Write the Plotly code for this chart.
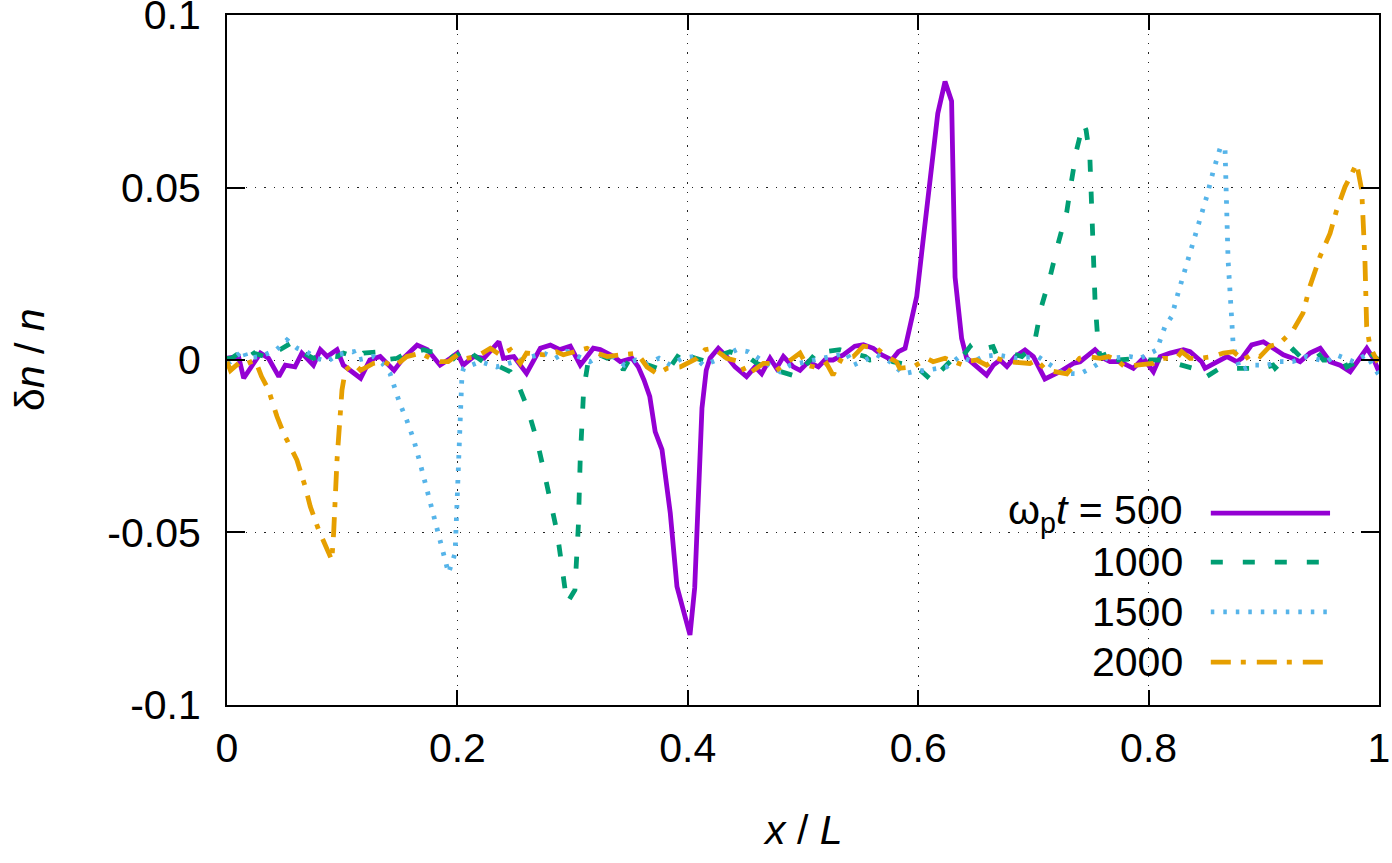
import plotly.graph_objects as go

# ---------------- data ----------------
x500 = [0, 0.01, 0.0145, 0.0217, 0.029, 0.036, 0.045, 0.0506, 0.059, 0.065, 0.075, 0.081, 0.087, 0.0955, 0.101,
        0.116, 0.124, 0.133, 0.145, 0.153, 0.165, 0.174, 0.185, 0.194, 0.2, 0.205, 0.214, 0.223, 0.236, 0.240,
        0.249, 0.26, 0.272, 0.2807, 0.289, 0.298, 0.3067, 0.3125, 0.318, 0.324, 0.33, 0.3356, 0.3414, 0.347,
        0.3516, 0.357, 0.362, 0.367, 0.3717, 0.3776, 0.3848, 0.3906, 0.4019, 0.406, 0.4095, 0.4123, 0.416,
        0.4193, 0.4265, 0.4337, 0.441, 0.451, 0.4584, 0.4641, 0.4714, 0.477, 0.483, 0.4916, 0.4974, 0.5046,
        0.5133, 0.519, 0.526, 0.535, 0.545, 0.5524, 0.561, 0.5683, 0.577, 0.5828, 0.5886, 0.5987, 0.603, 0.610,
        0.617, 0.6233, 0.629, 0.632, 0.6377, 0.642, 0.6508, 0.6594, 0.6652, 0.671, 0.677, 0.6843, 0.6927, 0.7,
        0.710, 0.7144, 0.723, 0.7346, 0.7405, 0.7535, 0.761, 0.7665, 0.7752, 0.7868, 0.7955, 0.8042, 0.81,
        0.8186, 0.8302, 0.836, 0.846, 0.849, 0.8592, 0.868, 0.8765, 0.881, 0.8895, 0.8996, 0.9083, 0.917,
        0.925, 0.9315, 0.94, 0.949, 0.9575, 0.9662, 0.975, 0.9835, 0.9894, 0.995, 1.0]
y500 = [0.0005, 0.001, -0.0053, -0.0015, 0.002, 0.0005, -0.0048, -0.0015, -0.002, 0.002, -0.0015, 0.003, 0.001,
        0.003, -0.0015, -0.0053, 0, 0.001, -0.003, 0.0005, 0.0043, 0.003, -0.0015, 0.0005, 0.002, -0.0015, 0.001,
        0.0005, 0.0053, 0.0005, 0.001, -0.0039, 0.0034, 0.0043, 0.003, 0.004, -0.0015, 0.001, 0.0034, 0.003,
        0.002, 0.001, -0.0005, 0, 0.0005, -0.002, -0.0058, -0.0106, -0.0208, -0.026, -0.0444, -0.0657, -0.0797,
        -0.066, -0.04, -0.014, -0.003, 0.0005, 0.0034, 0.001, -0.002, -0.0048, -0.002, -0.004, 0.0005, -0.0024,
        0.001, -0.002, -0.003, -0.0005, -0.002, 0, 0, 0.0015, 0.004, 0.0044, 0.0034, 0.0015, 0, 0.0024, 0.0034,
        0.0184, 0.031, 0.0512, 0.0715, 0.0807, 0.075, 0.024, 0.0063, 0.0006, -0.002, -0.0044, -0.0015, 0,
        -0.0019, 0.001, 0.0029, 0.001, -0.0055, -0.0048, -0.0034, -0.001, -0.0005, 0.003, 0.0005, -0.0005,
        -0.0005, -0.0024, 0.0005, -0.0034, 0.001, 0.002, 0.003, 0.0024, -0.0005, -0.0024, -0.0005, 0.001,
        -0.0005, 0.0005, 0.0044, 0.0053, 0.0034, 0.0015, 0.0005, -0.0005, 0.002, 0.0034, -0.0005, -0.0015,
        -0.0034, 0.0005, 0.0034, 0.0005, -0.0034]

x1000 = [0, 0.004, 0.019, 0.023, 0.0376, 0.043, 0.056, 0.061, 0.075, 0.0825, 0.0955, 0.101, 0.114, 0.1186, 0.133,
         0.137, 0.1476, 0.153, 0.1707, 0.1765, 0.192, 0.197, 0.208, 0.214, 0.2286, 0.234, 0.246, 0.2517, 0.2604,
         0.269, 0.275, 0.282, 0.2866, 0.2908, 0.2951, 0.302, 0.305, 0.3066, 0.3096, 0.3137, 0.32, 0.33, 0.338,
         0.344, 0.35, 0.362, 0.370, 0.382, 0.396, 0.402, 0.4167, 0.425, 0.4366, 0.454, 0.46, 0.4714, 0.4945,
         0.4974, 0.515, 0.518, 0.532, 0.538, 0.554, 0.558, 0.5726, 0.578, 0.596, 0.5987, 0.613, 0.616, 0.6305,
         0.635, 0.645, 0.648, 0.665, 0.668, 0.68, 0.69, 0.6966, 0.7014, 0.707, 0.7144, 0.7216, 0.729, 0.733,
         0.7375, 0.7433, 0.7457, 0.749, 0.7506, 0.7535, 0.7564, 0.758, 0.7723, 0.774, 0.7926, 0.7955, 0.8128,
         0.8302, 0.836, 0.849, 0.8504, 0.862, 0.8707, 0.888, 0.894, 0.908, 0.9098, 0.9257, 0.9315, 0.946,
         0.9517, 0.969, 0.972, 0.9864, 0.992, 1.0]
y1000 = [0.0005, 0.0005, 0.004, 0.002, 0.0005, 0.0024, 0.005, 0.003, 0.0005, 0.0015, 0.001, 0.002, 0.0005, 0.002,
         0.0024, 0, 0.0005, 0.0015, 0.003, 0.0024, 0.0024, 0.0005, 0.004, 0.0015, -0.002, -0.0015, -0.0034,
         -0.0063, -0.0135, -0.0232, -0.032, -0.0425, -0.050, -0.06, -0.0705, -0.0667, -0.048, -0.029, -0.0087,
         0, 0.002, 0.0005, 0.0015, -0.0029, 0.0005, -0.001, -0.002, -0.0034, 0.0034, 0.001, -0.0005, 0.001,
         0.0024, 0.0005, -0.001, -0.0024, -0.0048, -0.0034, 0.0034, 0.0024, 0.003, 0.0024, 0.001, 0, 0.0005,
         -0.0005, -0.0015, -0.002, -0.0063, -0.0044, 0.0005, -0.0005, 0.0039, 0.0024, 0.0039, 0.0015, 0.002,
         0.001, 0.003, 0.0058, 0.0155, 0.024, 0.0339, 0.043, 0.0517, 0.0609, 0.0686, 0.0667, 0.059, 0.0406,
         0.0174, 0.0034, 0.001, 0.003, 0, 0.0005, 0, 0, -0.0015, -0.002, -0.0034, -0.0048, -0.0024, -0.0024,
         -0.0024, -0.003, -0.0015, -0.0024, 0.003, 0.001, 0.0024, 0, 0, -0.002, 0.0005, 0.002, 0]

x1500 = [0, 0.003, 0.0145, 0.017, 0.029, 0.043, 0.052, 0.061, 0.069, 0.078, 0.087, 0.0955, 0.11, 0.113, 0.127,
         0.135, 0.1415, 0.150, 0.156, 0.162, 0.1677, 0.1735, 0.179, 0.185, 0.1923, 0.198, 0.1997, 0.201, 0.204,
         0.2054, 0.22, 0.234, 0.246, 0.2546, 0.265, 0.275, 0.285, 0.295, 0.305, 0.315, 0.325, 0.335, 0.345,
         0.355, 0.365, 0.375, 0.385, 0.395, 0.405, 0.4135, 0.425, 0.4425, 0.4525, 0.48, 0.4887, 0.509, 0.5205,
         0.538, 0.5437, 0.564, 0.5755, 0.587, 0.5958, 0.607, 0.6247, 0.636, 0.648, 0.6565, 0.668, 0.685, 0.704,
         0.7258, 0.7405, 0.752, 0.7636, 0.784, 0.7926, 0.807, 0.8142, 0.82, 0.8256, 0.8316, 0.8386, 0.8446,
         0.8504, 0.856, 0.862, 0.8663, 0.8677, 0.869, 0.872, 0.8735, 0.8794, 0.891, 0.9025, 0.914, 0.925,
         0.937, 0.9546, 0.963, 0.978, 0.989, 1.0]
y1500 = [-0.0005, -0.0005, 0.003, 0.0005, 0.001, 0.003, 0.0058, 0.0034, 0.0024, 0.0005, -0.0005, 0.0015, 0.0024,
         0, 0.001, -0.001, -0.0039, -0.0126, -0.0174, -0.023, -0.030, -0.0377, -0.0454, -0.052, -0.0618, -0.056,
         -0.0415, -0.025, -0.0039, -0.0024, -0.0005, -0.002, -0.001, 0, 0.001, 0.002, 0.0005, 0.0025, 0.001,
         -0.0005, 0.0015, 0.001, -0.0015, 0, -0.001, 0.0005, -0.0015, 0.0005, 0.001, -0.0015, 0, 0.003, 0.0024,
         -0.0034, -0.0015, 0, 0.0005, 0.002, -0.0015, 0.0015, -0.0005, -0.004, -0.0034, -0.003, -0.002, 0.001,
         -0.0005, 0.001, 0.0015, 0.0005, 0.001, -0.0039, -0.004, -0.002, 0.0005, 0.001, 0.0005, 0.0029, 0.0097,
         0.0126, 0.0194, 0.026, 0.0339, 0.0406, 0.0473, 0.0546, 0.0613, 0.0618, 0.0483, 0.029, 0.0126, 0.0039,
         -0.003, -0.0015, -0.0015, -0.0005, -0.0005, 0.001, -0.0005, 0.0015, -0.0005, 0.0015, -0.0044]

x2000 = [0, 0.003, 0.0116, 0.0174, 0.0245, 0.030, 0.0361, 0.0434, 0.0492, 0.0549, 0.0607, 0.0679, 0.0723, 0.0796,
         0.0868, 0.091, 0.0926, 0.0955, 0.0998, 0.1027, 0.11, 0.116, 0.127, 0.136, 0.145, 0.156, 0.168, 0.1765,
         0.185, 0.192, 0.2, 0.208, 0.217, 0.2286, 0.237, 0.246, 0.2546, 0.26, 0.275, 0.286, 0.292, 0.3125,
         0.321, 0.33, 0.3414, 0.356, 0.3646, 0.3733, 0.382, 0.3935, 0.408, 0.415, 0.4222, 0.4337, 0.4453, 0.451,
         0.4656, 0.4714, 0.477, 0.4873, 0.4974, 0.5032, 0.5148, 0.5205, 0.526, 0.5336, 0.5437, 0.5524, 0.564,
         0.5726, 0.581, 0.584, 0.5958, 0.603, 0.6074, 0.613, 0.6233, 0.639, 0.642, 0.6508, 0.6594, 0.668, 0.678,
         0.697, 0.7025, 0.711, 0.729, 0.74, 0.7463, 0.758, 0.7651, 0.7723, 0.7795, 0.7897, 0.804, 0.8128,
         0.8244, 0.8287, 0.836, 0.8447, 0.856, 0.8649, 0.8736, 0.8823, 0.891, 0.8967, 0.9054, 0.914, 0.9256,
         0.934, 0.940, 0.9488, 0.9575, 0.9633, 0.9705, 0.975, 0.9806, 0.985, 0.9878, 0.9893, 0.9922, 0.998, 1.0]
y2000 = [-0.0005, -0.003, -0.0005, -0.001, 0, -0.0048, -0.0087, -0.0164, -0.0213, -0.025, -0.029, -0.0367,
         -0.0425, -0.0493, -0.055, -0.058, -0.050, -0.029, -0.0087, -0.003, -0.001, -0.003, -0.001, -0.0005,
         -0.002, 0.001, 0.002, 0.0005, -0.0005, -0.0005, 0.0015, 0.0005, 0.001, 0.0034, 0.0015, 0.003, -0.001,
         0.002, 0.0015, 0.0024, 0.0015, 0.0034, 0.002, 0.001, 0.0015, 0.002, -0.002, -0.004, -0.0024, -0.002,
         0.0005, 0.003, 0.0034, 0.0005, -0.0005, -0.0044, -0.001, -0.001, -0.003, -0.0005, 0.002, -0.0015,
         -0.0024, -0.001, -0.0044, 0.0005, 0.001, 0.004, 0.0034, 0.001, -0.0005, -0.0024, -0.002, -0.0005,
         0.0005, -0.0005, 0.0005, -0.0015, -0.0005, 0, -0.0015, 0.0005, -0.0005, -0.001, 0, -0.0029, -0.004,
         0.0005, 0.001, 0.0005, 0.001, 0, -0.002, -0.0015, -0.001, 0.0005, 0.0005, 0.0024, 0.0005, 0.0005, 0.001,
         0.002, 0.0024, 0, 0.002, 0.001, 0.004, 0.0049, 0.0087, 0.0136, 0.0213, 0.030, 0.0367, 0.0435, 0.0502,
         0.0531, 0.057, 0.0493, 0.029, 0.0097, 0.0039, 0, 0.0005]

series_labels = ["ω<sub>p</sub><i>t</i> = 500", "1000", "1500", "2000"]
x_ticks = [0, 0.2, 0.4, 0.6, 0.8, 1.0]
x_tick_text = ["0", "0.2", "0.4", "0.6", "0.8", "1"]
y_ticks = [-0.1, -0.05, 0, 0.05, 0.1]
y_tick_text = ["-0.1", "-0.05", "0", "0.05", "0.1"]

# ---------------- styles ----------------
colors = ["#9400d3", "#009e73", "#56b4e9", "#e69f00"]
dashes = ["solid", "12px,20px", "3.5px,9px", "20px,10px,5px,11px"]
LW = 4.8
FONT = "Liberation Sans, Arial, sans-serif"
FS = 41

fig = go.Figure()
for xs, ys, c, d, name in zip([x500, x1000, x1500, x2000], [y500, y1000, y1500, y2000],
                              colors, dashes, series_labels):
    fig.add_trace(go.Scatter(x=xs, y=ys, mode="lines", name=name, showlegend=False,
                             line=dict(color=c, width=LW, dash=d)))

# gnuplot-style key: text on the left, line sample on the right
key_rows = [0.278, 0.207, 0.135, 0.062]
for lab, c, d, ry in zip(series_labels, colors, dashes, key_rows):
    fig.add_annotation(x=0.8316, y=ry, xref="paper", yref="paper", text=lab, showarrow=False,
                       xanchor="right", yanchor="middle", font=dict(family=FONT, size=FS, color="black"))
    fig.add_shape(type="line", xref="paper", yref="paper", x0=0.854, x1=0.9575, y0=ry, y1=ry,
                  line=dict(color=c, width=LW, dash=d))

# axis titles
fig.add_annotation(x=0.5, y=-0.181, xref="paper", yref="paper", text="<i>x</i> / <i>L</i>",
                   showarrow=False, xanchor="center", yanchor="middle",
                   font=dict(family=FONT, size=FS, color="black"))
fig.add_annotation(x=-0.171, y=0.5, xref="paper", yref="paper", text="δ<i>n</i> / <i>n</i>",
                   showarrow=False, xanchor="center", yanchor="middle", textangle=-90,
                   font=dict(family=FONT, size=FS, color="black"))

axis_common = dict(showline=True, linecolor="black", linewidth=2, mirror="ticks",
                   ticks="inside", tickcolor="black", tickwidth=2, automargin=False,
                   ticklabeloverflow="allow",
                   showgrid=True, gridcolor="#222222", gridwidth=1, griddash="1.3px,8px",
                   zeroline=False, tickfont=dict(family=FONT, size=FS, color="black"))

fig.update_xaxes(range=[0, 1.00001], tickvals=x_ticks, ticktext=x_tick_text, ticklen=15,
                 ticklabelstandoff=6, **axis_common)
fig.update_yaxes(range=[-0.10001, 0.10001], tickvals=y_ticks, ticktext=y_tick_text, ticklen=18,
                 ticklabelstandoff=16, **axis_common)

fig.update_layout(width=1392, height=863, margin=dict(l=227, r=13, t=15, b=158),
                  plot_bgcolor="white", paper_bgcolor="white",
                  font=dict(family=FONT, size=FS, color="black"))

# remove the browser's default 8px body margin so the figure fills the window exactly
fig.write_html("out.html", config={"displayModeBar": False},
               post_script="document.body.style.margin='0px';document.body.style.overflow='hidden';")
